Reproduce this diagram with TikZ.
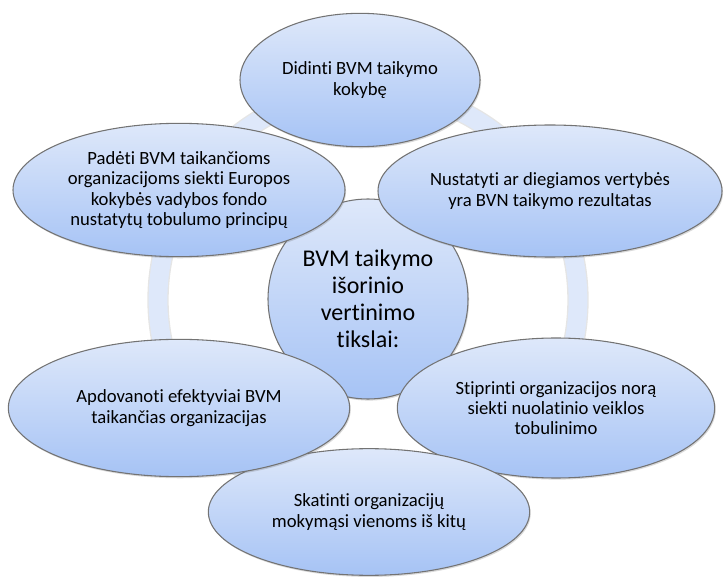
\documentclass[tikz,border=0pt]{standalone}
\usepackage{fontspec}
\setmainfont{Carlito}[Ligatures=NoCommon]
\usepackage{xcolor}
\usepackage{tikz}
\usetikzlibrary{shapes.geometric, shadows}

\definecolor{goaltop}{RGB}{222,232,250}
\definecolor{goalbot}{RGB}{166,195,245}
\definecolor{ringfill}{RGB}{222,232,250}

\begin{document}
\begin{tikzpicture}[
  x=0.75pt, y=-0.75pt,
  goal/.style={ellipse, draw=black!55, line width=0.8pt,
               top color=goaltop, bottom color=goalbot,
               inner sep=0pt, align=center,
               font=\fontsize{14}{15.2}\selectfont,
               drop shadow={shadow xshift=0.8pt, shadow yshift=-1.2pt,
                            opacity=0.25, fill=black!60}},
  hub/.style={goal, circle, minimum size=150pt,
              font=\fontsize{18}{20.25}\selectfont}
]
\useasboundingbox (0,0) rectangle (726,581);

% ring behind the goals
\draw[line width=16pt, black!10] (368,300) circle (157.5pt);
\draw[line width=14pt, ringfill] (368,300) circle (157.5pt);

\node[hub] (hub) at (368,299)
  {BVM taikymo\\išorinio\\vertinimo\\tikslai:};

\node[goal, minimum width=180pt, minimum height=100pt] (quality) at (360,80)
  {Didinti BVM taikymo\\kokybę};
\node[goal, minimum width=258pt, minimum height=99pt] (values) at (550,191)
  {Nustatyti ar diegiamos vertybės\\yra BVN taikymo rezultatas};
\node[goal, minimum width=238pt, minimum height=105pt] (improve) at (556,408)
  {Stiprinti organizacijos norą\\siekti nuolatinio veiklos\\tobulinimo};
\node[goal, minimum width=241pt, minimum height=95pt] (learn) at (369,512)
  {Skatinti organizacijų\\mokymąsi vienoms iš kitų};
\node[goal, minimum width=256pt, minimum height=103pt] (reward) at (179,408)
  {Apdovanoti efektyviai BVM\\taikančias organizacijas};
\node[goal, minimum width=249pt, minimum height=100pt] (efqm) at (179,190)
  {Padėti BVM taikančioms\\organizacijoms siekti Europos\\kokybės vadybos fondo\\nustatytų tobulumo principų};

\end{tikzpicture}
\end{document}
